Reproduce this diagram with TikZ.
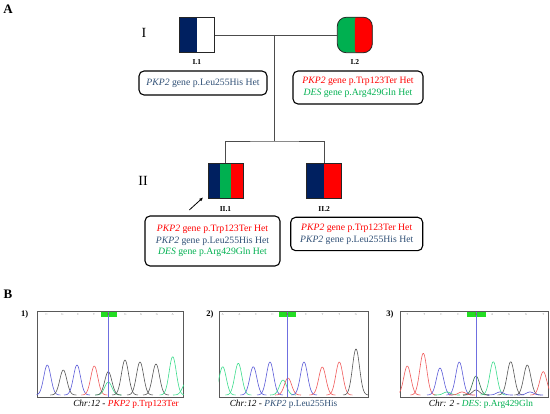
\documentclass[tikz,border=0pt]{standalone}
\usepackage{fontspec}
\setmainfont{Liberation Serif}
\usetikzlibrary{arrows.meta,positioning,calc}
\definecolor{pedNavy}{HTML}{002060}
\definecolor{pedGreen}{HTML}{00B050}
\definecolor{pedRed}{HTML}{FF0000}
\definecolor{pedText}{HTML}{2F4F75}
\definecolor{pkBlue}{HTML}{5A5AD8}
\definecolor{pkGray}{HTML}{555555}
\definecolor{pkRed}{HTML}{F05A5A}
\definecolor{pkGreen}{HTML}{3CDC8C}
\definecolor{pkDkGreen}{HTML}{2E6B45}
\definecolor{pkMark}{HTML}{22DD22}
\definecolor{pkCursor}{HTML}{6F6FE0}
\definecolor{pkBase}{HTML}{A04020}

\begin{document}
\begin{tikzpicture}[x=1pt,y=-1pt,>=Latex,
  indiv/.style={draw=black!85,line width=0.8pt,minimum width=35pt,minimum height=35.5pt,inner sep=0pt},
  varbox/.style={draw,rounded corners=5pt,line width=1.1pt,align=center,inner sep=0pt,font=\fontsize{9.7}{11.7}\selectfont},
  idlab/.style={inner sep=0pt,font=\fontsize{7.5}{9}\selectfont\bfseries},
  genlab/.style={inner sep=0pt,font=\fontsize{14}{16}\selectfont},
  panlab/.style={inner sep=0pt,font=\fontsize{13}{15}\selectfont\bfseries},
  link/.style={draw=black!70,line width=0.8pt},
  seqframe/.style={draw=black!65,line width=0.9pt,minimum height=85.3pt,inner sep=0pt},
  seqbase/.style={inner sep=0pt,text=black!45,font=\fontsize{3}{3}\selectfont},
  seqnum/.style={inner sep=0pt,font=\fontsize{8.5}{9}\selectfont\bfseries},
  trace/.style={line width=0.6pt},
  seqcap/.style={inner sep=0pt,font=\fontsize{9.3}{11}\selectfont}]
\useasboundingbox (0,0) rectangle (550,414);

% panel A: pedigree
\node[panlab] (labA) at (8,9) {A};
\node[genlab] (gen1) at (144,32.5) {I};
\node[genlab] (gen2) at (143,181) {II};

\node[indiv,path picture={\fill[pedNavy] (path picture bounding box.south west) rectangle (path picture bounding box.north);}] (i1) at (196.8,35) {};
\node[indiv,rounded corners=9pt,fill=pedGreen,path picture={
  \fill[pedRed] ([yshift=-5pt]path picture bounding box.south) rectangle ([xshift=5pt,yshift=5pt]path picture bounding box.north east);}] (i2) at (354.8,35) {};
\node[indiv,path picture={
  \fill[pedNavy] (path picture bounding box.south west) rectangle ([xshift=11.8pt]path picture bounding box.north west);
  \fill[pedGreen] ([xshift=11.8pt]path picture bounding box.south west) rectangle ([xshift=-11.8pt]path picture bounding box.north east);
  \fill[pedRed] ([xshift=-11.8pt]path picture bounding box.south east) rectangle (path picture bounding box.north east);}] (ii1) at (225.5,180.8) {};
\node[indiv,path picture={
  \fill[pedNavy] (path picture bounding box.south west) rectangle (path picture bounding box.north);
  \fill[pedRed] (path picture bounding box.south) rectangle (path picture bounding box.north east);}] (ii2) at (324.2,180.8) {};

\node[idlab,below=6.4pt of i1] (li1) {I.1};
\node[idlab,below=6.4pt of i2] (li2) {I.2};
\node[idlab,below=7pt of ii1] (lii1) {II.1};
\node[idlab,below=7pt of ii2] (lii2) {II.2};

\coordinate (mt) at (274.3,35);
\coordinate (sb) at (274.3,141);
\draw[link] (i1.east) -- (i2.west);
\draw[link] (mt) -- (sb);
\draw[link] (ii1.north) |- (sb) -| (ii2.north);

\coordinate (pr) at (189.3,210);
\draw[-{Latex[length=4pt,width=3.4pt]},line width=0.8pt] (pr) -- ([xshift=-4.4pt,yshift=1.6pt]ii1.south west);

\node[varbox,minimum width=128pt,minimum height=24pt] (v1) at (203,83)
  {\textcolor{pedText}{\textit{PKP2} gene p.Leu255His Het}};
\node[varbox,minimum width=130pt,minimum height=33pt] (v2) at (358,87.5)
  {\textcolor{pedRed}{\textit{PKP2} gene p.Trp123Ter Het}\\
   \textcolor{pedGreen}{\textit{DES} gene p.Arg429Gln Het}};
\node[varbox,minimum width=135pt,minimum height=50pt] (v3) at (212.5,241)
  {\textcolor{pedRed}{\textit{PKP2} gene p.Trp123Ter Het}\\
   \textcolor{pedText}{\textit{PKP2} gene p.Leu255His Het}\\
   \textcolor{pedGreen}{\textit{DES} gene p.Arg429Gln Het}};
\node[varbox,minimum width=132pt,minimum height=33.4pt] (v4) at (356.7,234)
  {\textcolor{pedRed}{\textit{PKP2} gene p.Trp123Ter Het}\\
   \textcolor{pedText}{\textit{PKP2} gene p.Leu255His Het}};

% panel B: chromatograms
\node[panlab] (labB) at (8,294) {B};
\node[seqnum] (n1) at (24.7,314) {1)};
\node[seqnum] (n2) at (210,314) {2)};
\node[seqnum] (n3) at (390,314) {3)};

\node[seqframe,minimum width=146.4pt] (c1) at (110.2,354.4) {};
\node[seqframe,minimum width=149pt] (c2) at (293.5,354.4) {};
\node[seqframe,minimum width=148.5pt] (c3) at (474.3,354.4) {};

\begin{scope}
\clip (c1.south west) rectangle (c1.north east);
\foreach \pc/\h/\col in {47.3/30/pkBlue,63.3/25/pkGray,77/30/pkBlue,94.3/29/pkRed,108.3/13/pkGreen,108.3/23.3/pkGray,
  125/35/pkGray,140/33/pkGray,156/31/pkGray,172.7/38.3/pkGreen,186/12/pkGreen}
  \draw[trace,\col] plot[domain=\pc-13:\pc+13,samples=40,smooth] (\x,{395-\h*exp(-((\x-\pc)/5)^2)});
\fill[pkMark] (101,311.7) rectangle (117.3,317.3);
\draw[pkCursor,line width=0.6pt] (108.3,311.7) -- (108.3,397);
\foreach \b [count=\i from 0] in {C,G,C,T,,G,G,G,A}
  \node[seqbase] (s1-\i) at (46.7+15.75*\i,314.5) {\b};
\node[seqbase,text=pkBase] (m1) at (108.3,314.5) {R};
\end{scope}

\begin{scope}
\clip (c2.south west) rectangle (c2.north east);
\foreach \pc/\h/\col in {222.7/28.3/pkGreen,238.3/31.7/pkGreen,253.3/28.3/pkBlue,270/33/pkBlue,283/15/pkGreen,288/17/pkRed,
  304/33/pkBlue,322.3/28/pkRed,339.3/33/pkRed,356/46/pkGray}
  \draw[trace,\col] plot[domain=\pc-13:\pc+13,samples=40,smooth] (\x,{395-\h*exp(-((\x-\pc)/5)^2)});
\fill[pkMark] (279,311.7) rectangle (296,317.3);
\draw[pkCursor,line width=0.6pt] (287.3,311.7) -- (287.3,397);
\foreach \b [count=\i from 0] in {A,A,C,C,,C,T,T,G}
  \node[seqbase] (s2-\i) at (222.7+16.66*\i,314.5) {\b};
\node[seqbase,text=pkBase] (m2) at (287.3,314.5) {R};
\end{scope}

\begin{scope}
\clip (c3.south west) rectangle (c3.north east);
\foreach \pc/\h/\col in {407.3/29/pkRed,423.3/41.7/pkRed,440/27/pkBlue,459.3/33/pkBlue,476/19/pkDkGreen,476/5/pkGray,
  493.3/33.3/pkGreen,510.7/33.3/pkGray,527.3/30/pkGray,543.3/23.3/pkRed,447/3/pkGreen,462/3/pkRed,500/3/pkBlue,530/3/pkBlue}
  \draw[trace,\col] plot[domain=\pc-13:\pc+13,samples=40,smooth] (\x,{395-\h*exp(-((\x-\pc)/5)^2)});
\fill[pkMark] (467.3,311.7) rectangle (485.7,317.3);
\draw[pkCursor,line width=0.6pt] (476,311.7) -- (476,397);
\foreach \b [count=\i from 0] in {T,T,C,C,,A,G,G,T}
  \node[seqbase] (s3-\i) at (407.3+17*\i,314.5) {\b};
\node[seqbase,text=pkBase] (m3) at (476,314.5) {R};
\end{scope}

\node[seqcap] (t1) at (126,404) {\textit{Chr:12 - }\textcolor{pedRed}{\textit{PKP2} p.Trp123Ter}};
\node[seqcap] (t2) at (283.5,404) {\textit{Chr:12 - }\textcolor{pedText}{\textit{PKP2} p.Leu255His}};
\node[seqcap] (t3) at (481,404) {\textit{Chr: 2 - }\textcolor{pedGreen}{\textit{DES}: p.Arg429Gln}};
\end{tikzpicture}
\end{document}
